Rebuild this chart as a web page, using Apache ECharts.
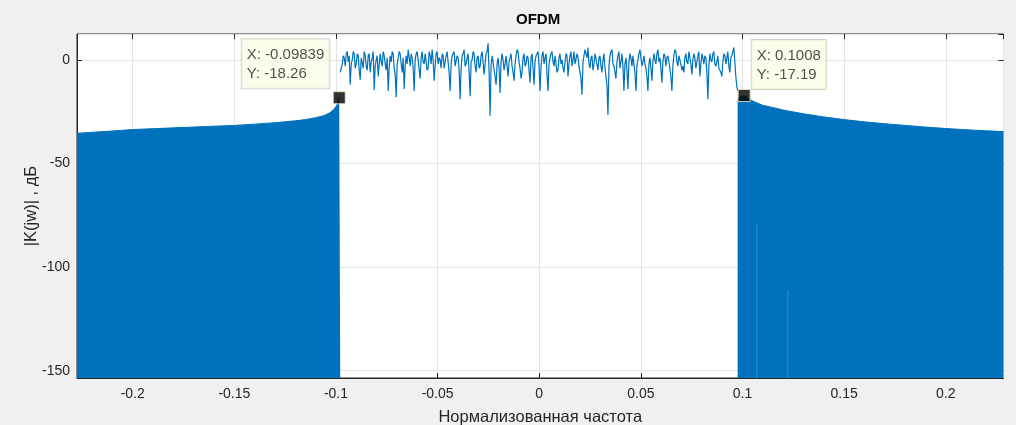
<!DOCTYPE html>
<html>
<head>
<meta charset="utf-8">
<script src="https://cdn.jsdelivr.net/npm/echarts@6/dist/echarts.min.js"></script>
<style>
html,body{margin:0;padding:0;background:#f0f0f0;}
#chart{width:1016px;height:425px;}
</style>
</head>
<body>
<div id="chart"></div>
<script>
// ---- data ----
const titleText = 'OFDM';
const xAxisName = 'Нормализованная частота';
const yAxisName = '|K(jw)| , дБ';

const xMin = -0.2274, xMax = 0.2284;
const yMin = -153.5, yMax = 12.5;

// envelope (top) of the dense side-lobe region, left of the band
const leftEnvelope = [
  [-0.2274,-35.4],[-0.21,-34.3],[-0.20,-33.6],[-0.18,-32.8],[-0.16,-32.0],[-0.15,-31.6],
  [-0.14,-31.0],[-0.13,-30.3],[-0.12,-29.4],[-0.115,-28.8],[-0.11,-27.9],[-0.106,-26.9],
  [-0.103,-25.5],[-0.101,-23.8],[-0.0995,-21.8],[-0.0984,-18.26],[-0.0979,-17.8]
];
// envelope (top) of the dense side-lobe region, right of the band
const rightEnvelope = [
  [0.0976,-18.5],[0.1008,-17.19],[0.103,-18.8],[0.106,-20.3],[0.11,-21.9],[0.115,-23.0],
  [0.12,-24.2],[0.13,-26.0],[0.14,-27.5],[0.15,-28.8],[0.16,-29.9],[0.17,-30.8],
  [0.18,-31.6],[0.19,-32.4],[0.20,-33.1],[0.21,-33.7],[0.22,-34.2],[0.2284,-34.6]
];
// faint gaps in the right side-lobe fill
const gapX = [0.1071, 0.1223];
const gapTop = [-79, -111];

// in-band spectrum samples (evenly spaced from bandStart to bandEnd)
const bandStart = -0.0979, bandEnd = 0.0977;
const bandValues = [
  -6,-4,-2,2,1,-3,3,4,-1,2,-12,-2,0,4,3,-4,-2,3,2,-5,-9.6,1,1,-4,4,2,-3,-5,2,3,-6,-1,1,4,-14.5,-3,0,2,-8,-2,
  3,-1,-3,4,2,-2,-5,1,-15,-4,2,-1,4,3,-4,-7,-18,-2,1,4,3,-2,-6,1,-14,-3,2,-2,5,1,-3,3,1,-4,-15,0,3,4,0,-5,
  -9,1,4,-1,-2,3,3,-5,-4,4,2,-2,5,0,-10,-3,3,4,-2,1,0,-4,3,2,-4,-1,2,4,-1,-6,-15,-2,2,3,4,-3,-3,2,1,-5,
  -19,-4,2,3,5,-3,-2,1,3,-6,-17.5,-1,0,4,3,-3,-6,1,2,-4,-3,2,4,-1,-7,-2,3,4,8,-6,-27,-3,2,-1,-5,-8,-12,-2,1,-4,
  -16,-1,3,0,-5,-2,2,-3,-8,-1,1,3,-3,-6,-10,-2,2,5,4,-1,-4,-9,-6,1,3,-3,-2,2,1,-5,-11,1,3,-4,-12,-1,2,3,4,-3,
  -15,-3,2,4,-2,1,3,-7,-15,-2,1,3,4,-1,-3,2,2,-6,-5,1,3,-2,0,-4,-6,-1,3,2,-8,-2,2,4,-3,0,4,-2,-2,3,1,-3,
  -6,-9,-16.8,-1,2,5,3,1,6,-2,-4,1,2,-5,-2,3,3,-2,-5,1,2,-3,-6,0,3,-4,-8,-12,-26.6,-3,2,4,5,-2,-3,-6,-9,-1,2,4,
  -4,-1,3,-3,-15,-2,1,-5,-14,-1,3,1,-3,2,2,-6,-15,-3,0,3,5,1,-3,-1,2,-2,-4,-8,-15,-2,1,-4,-10,-1,3,0,-2,3,5,-1,
  1,-4,-11,-1,3,2,-3,1,2,-1,-4,-8,-15,-3,2,5,4,-1,-3,2,2,-2,-5,-3,-6,1,3,-1,-2,4,1,-2,-7,0,3,1,-4,-1,2,4,
  -8,-2,3,1,-2,2,1,-6,-19,-3,3,0,-1,3,4,-2,-3,-1,2,-4,-5,-6,-8,-1,3,2,-2,1,4,-3,-6,1,2,4,6,-1,-8,-13,-15
];

// data tips
const tipX = [-0.09839, 0.1008];
const tipY = [-18.26, -17.19];
const tipLabelOffset = [[-91, -52], [14, -49]];

// ---- build ----
const blue = '#0072BD';
const font = '"Liberation Sans", Arial, Helvetica, sans-serif';
const axisColor = '#262626';
const bandStep = (bandEnd - bandStart) / (bandValues.length - 1);
const bandData = bandValues.map((v, i) => [bandStart + i * bandStep, v]);
const gapSeries = gapX.map((x, i) => ({
  type: 'line', silent: true, showSymbol: false, z: 3,
  lineStyle: { color: 'rgba(120,175,225,0.45)', width: 1 },
  data: [[x, gapTop[i]], [x, yMin]]
}));
const tipData = tipX.map((x, i) => ({
  value: [x, tipY[i]],
  label: { position: tipLabelOffset[i] }
}));

const chart = echarts.init(document.getElementById('chart'));
chart.setOption({
  backgroundColor: '#f0f0f0',
  animation: false,
  textStyle: { fontFamily: font },
  title: {
    text: titleText, left: 516, top: 12, padding: 0,
    textStyle: { fontSize: 15, fontWeight: 'bold', color: '#000', fontFamily: font }
  },
  grid: {
    left: 77, right: 12.5, top: 34, bottom: 47,
    containLabel: false, outerBoundsMode: 'none',
    show: true, backgroundColor: '#ffffff', borderColor: axisColor, borderWidth: 1
  },
  xAxis: [{
    type: 'value', min: xMin, max: xMax, splitNumber: 9,
    name: xAxisName, nameLocation: 'middle', nameGap: 31, nameMoveOverlap: false,
    nameTextStyle: { fontSize: 16.5, color: axisColor },
    axisLine: { show: true, onZero: false, lineStyle: { color: axisColor } },
    axisTick: { show: true, inside: true, length: 5, lineStyle: { color: axisColor } },
    axisLabel: { showMinLabel: false, showMaxLabel: false, fontSize: 14, color: axisColor, margin: 9 },
    splitLine: { show: true, lineStyle: { color: '#e3e3e3', width: 1 } }
  }, {
    type: 'value', min: xMin, max: xMax, splitNumber: 9, position: 'top',
    axisLine: { show: false, onZero: false },
    axisTick: { show: true, inside: true, length: 5, lineStyle: { color: axisColor } },
    axisLabel: { show: false }, splitLine: { show: false }
  }],
  yAxis: [{
    type: 'value', min: yMin, max: yMax, splitNumber: 4,
    name: yAxisName, nameLocation: 'middle', nameGap: 37, nameRotate: 90, nameMoveOverlap: false,
    nameTextStyle: { fontSize: 16.5, color: axisColor },
    axisLine: { show: true, onZero: false, lineStyle: { color: axisColor } },
    axisTick: { show: true, inside: true, length: 5, lineStyle: { color: axisColor } },
    axisLabel: { showMinLabel: false, showMaxLabel: false, fontSize: 14, color: axisColor, margin: 7 },
    splitLine: { show: true, lineStyle: { color: '#e3e3e3', width: 1 } }
  }, {
    type: 'value', min: yMin, max: yMax, splitNumber: 4, position: 'right',
    axisLine: { show: false, onZero: false },
    axisTick: { show: true, inside: true, length: 5, lineStyle: { color: axisColor } },
    axisLabel: { show: false }, splitLine: { show: false }
  }],
  series: [
    {
      type: 'line', data: leftEnvelope, showSymbol: false, z: 2,
      lineStyle: { color: blue, width: 1 },
      areaStyle: { color: blue, opacity: 1, origin: 'start' }
    },
    {
      type: 'line', data: rightEnvelope, showSymbol: false, z: 2,
      lineStyle: { color: blue, width: 1 },
      areaStyle: { color: blue, opacity: 1, origin: 'start' }
    },
    ...gapSeries,
    {
      type: 'line', data: bandData, showSymbol: false, z: 2,
      lineStyle: { color: blue, width: 1.2 }
    },
    {
      type: 'scatter', data: tipData, z: 10,
      symbol: 'rect', symbolSize: 12,
      itemStyle: { color: '#000000', borderColor: '#f3ecc0', borderWidth: 1 },
      label: {
        show: true,
        formatter: p => 'X: ' + p.value[0] + '\nY: ' + p.value[1],
        align: 'left', verticalAlign: 'top',
        fontSize: 15, lineHeight: 19, color: axisColor, fontFamily: font,
        backgroundColor: '#fbfbe6', borderColor: '#c9c9c0', borderWidth: 1,
        padding: [6, 5, 5, 5]
      }
    }
  ]
});
</script>
</body>
</html>
